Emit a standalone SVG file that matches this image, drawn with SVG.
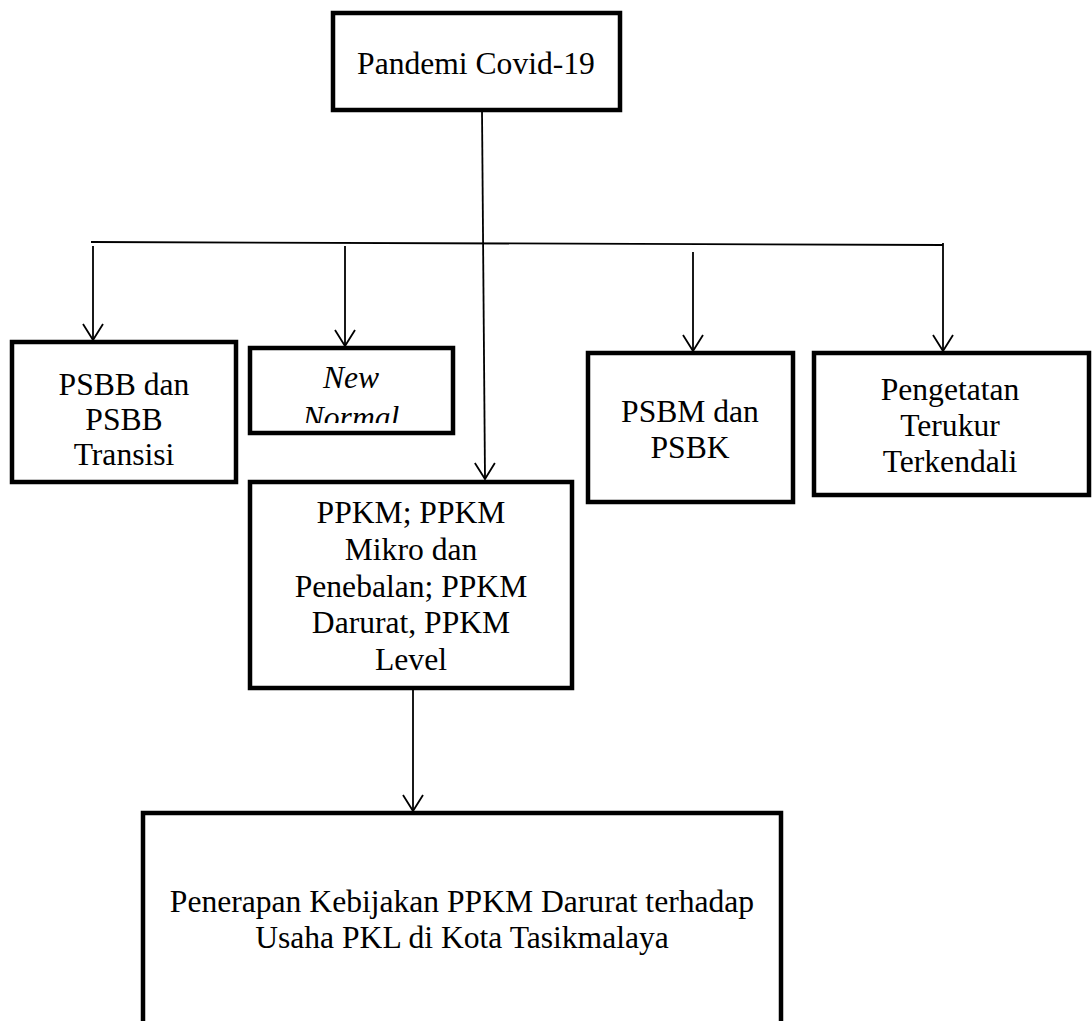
<svg xmlns="http://www.w3.org/2000/svg" width="1092" height="1021" viewBox="0 0 1092 1021">
<style>
.box{fill:#fff;stroke:#000;stroke-width:4.5}
.t{font-family:"Liberation Serif","Times New Roman",serif;font-size:31.6px;fill:#000;text-anchor:middle}
.i{font-style:italic}
.c{fill:none;stroke:#000;stroke-width:1.8}
</style>
<defs>
<marker id="ah" markerWidth="20" markerHeight="24" refX="18" refY="12" orient="auto" markerUnits="userSpaceOnUse" viewBox="0 0 20 24">
<path d="M2,2 L18,12 L2,22" fill="none" stroke="#000" stroke-width="1.8"/>
</marker>
<clipPath id="nnclip"><rect x="252" y="350" width="199" height="73"/></clipPath>
</defs>
<g id="connectors">
<line class="c" x1="91" y1="242" x2="943" y2="245"/>
<line class="c" x1="482" y1="110" x2="485" y2="479" marker-end="url(#ah)"/>
<line class="c" x1="93" y1="246" x2="93" y2="340" marker-end="url(#ah)"/>
<line class="c" x1="345" y1="246" x2="345" y2="346" marker-end="url(#ah)"/>
<line class="c" x1="693" y1="252" x2="693" y2="351" marker-end="url(#ah)"/>
<line class="c" x1="943" y1="243" x2="943" y2="351" marker-end="url(#ah)"/>
<line class="c" x1="413" y1="688" x2="413" y2="811" marker-end="url(#ah)"/>
</g>
<g id="n-pandemi">
<rect class="box" x="333" y="13" width="287" height="97"/>
<text class="t" x="476" y="74">Pandemi Covid-19</text>
</g>
<g id="n-psbb">
<rect class="box" x="12" y="342" width="224" height="140"/>
<text class="t" x="124" y="395">PSBB dan</text>
<text class="t" x="124" y="430">PSBB</text>
<text class="t" x="124" y="465">Transisi</text>
</g>
<g id="n-newnormal">
<rect class="box" x="250" y="348" width="203" height="85"/>
<g clip-path="url(#nnclip)">
<text class="t i" x="351" y="388">New</text>
<text class="t i" x="351" y="428">Normal</text>
</g>
</g>
<g id="n-psbm">
<rect class="box" x="588" y="353" width="205" height="149"/>
<text class="t" x="690" y="422">PSBM dan</text>
<text class="t" x="690" y="458">PSBK</text>
</g>
<g id="n-pengetatan">
<rect class="box" x="814" y="353" width="275" height="142"/>
<text class="t" x="950" y="400">Pengetatan</text>
<text class="t" x="950" y="436">Terukur</text>
<text class="t" x="950" y="472">Terkendali</text>
</g>
<g id="n-ppkm">
<rect class="box" x="250" y="482" width="322" height="206"/>
<text class="t" x="411" y="523">PPKM; PPKM</text>
<text class="t" x="411" y="560">Mikro dan</text>
<text class="t" x="411" y="597">Penebalan; PPKM</text>
<text class="t" x="411" y="633">Darurat, PPKM</text>
<text class="t" x="411" y="670">Level</text>
</g>
<g id="n-penerapan">
<rect class="box" x="143" y="813" width="638" height="240"/>
<text class="t" x="462" y="912">Penerapan Kebijakan PPKM Darurat terhadap</text>
<text class="t" x="462" y="948">Usaha PKL di Kota Tasikmalaya</text>
</g>
</svg>
